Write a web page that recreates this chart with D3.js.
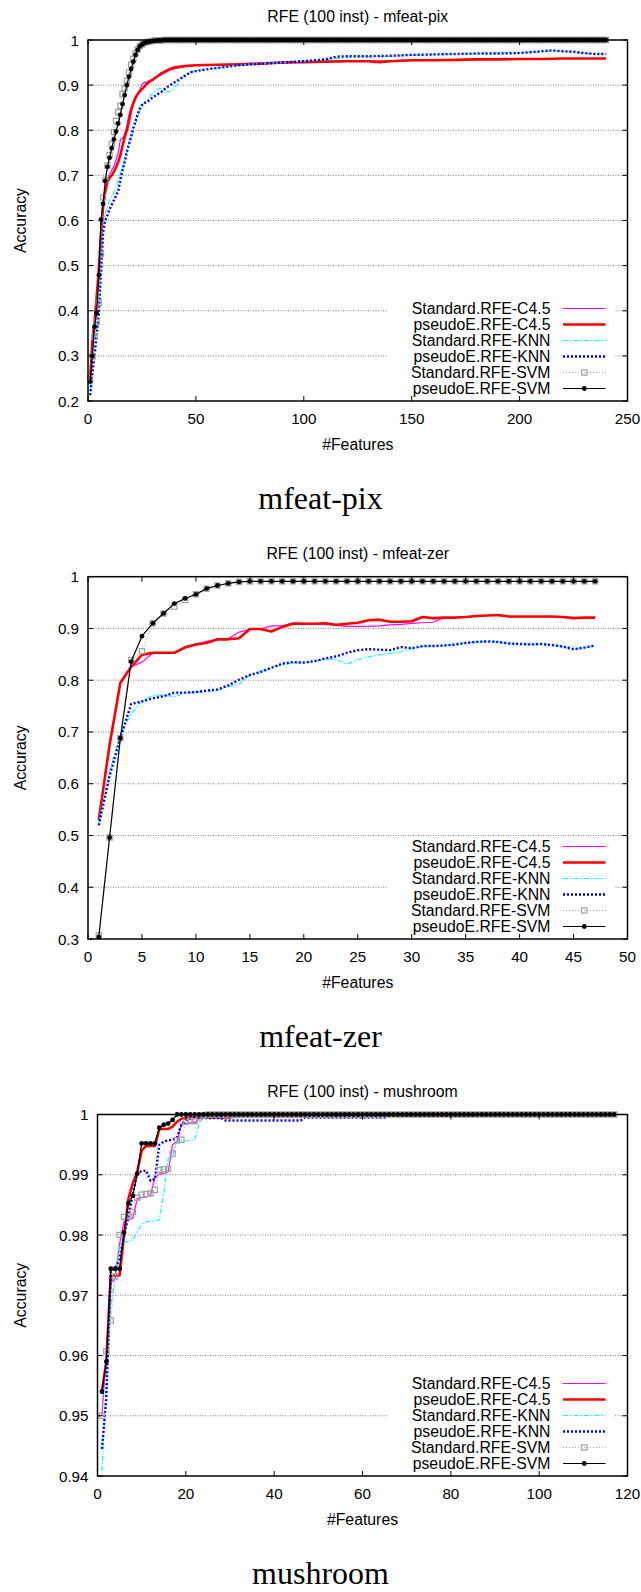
<!DOCTYPE html>
<html>
<head>
<meta charset="utf-8">
<script src="https://cdn.jsdelivr.net/npm/d3@7"></script>
<style>
  body { margin: 0; background: #fff; }
  svg text { font-family: "Liberation Sans", Arial, sans-serif; fill: #000; }
  svg text.caption { font-family: "Liberation Serif", "Times New Roman", serif; }
</style>
</head>
<body>
<svg id="fig" width="641" height="1592"></svg>
<script>
// ---------- legend entries (same order in every panel) ----------
const seriesNames = ["Standard.RFE-C4.5", "pseudoE.RFE-C4.5", "Standard.RFE-KNN",
                     "pseudoE.RFE-KNN", "Standard.RFE-SVM", "pseudoE.RFE-SVM"];

// ---------- mfeat-pix : accuracy vs. number of features ----------
const pixXTicks = [0, 50, 100, 150, 200, 250];
const pixYTicks = [0.2, 0.3, 0.4, 0.5, 0.6, 0.7, 0.8, 0.9, 1];

// [features, accuracy]
const pixC45Std = [[1,0.25],[2,0.32],[3,0.37],[4,0.42],[5,0.48],[6,0.55],[7,0.62],[8,0.66],[9,0.69],[10,0.70],
  [11,0.712],[12,0.72],[13,0.735],[14,0.748],[15,0.78],[16,0.782],[17,0.79],[18,0.81],[19,0.835],[20,0.85],
  [21,0.862],[22,0.872],[23,0.88],[24,0.89],[25,0.902],[26,0.906],[27,0.906],[28,0.909],[30,0.912],[32,0.918],
  [34,0.923],[36,0.928],[38,0.933],[40,0.936],[43,0.94],[46,0.942],[50,0.943],[60,0.944],[70,0.945],[80,0.947],
  [90,0.949],[100,0.951],[110,0.952],[120,0.953],[130,0.953],[140,0.954],[150,0.955],[160,0.955],[170,0.956],
  [180,0.957],[200,0.958],[220,0.959],[240,0.959]];
const pixC45PseudoE = [[1,0.25],[2,0.33],[3,0.375],[4,0.43],[5,0.49],[6,0.565],[7,0.635],[8,0.665],[9,0.685],[10,0.695],
  [11,0.70],[12,0.708],[13,0.718],[14,0.73],[15,0.745],[16,0.765],[17,0.785],[18,0.80],[19,0.82],[20,0.845],
  [21,0.86],[22,0.872],[23,0.88],[24,0.886],[25,0.891],[26,0.896],[27,0.902],[28,0.906],[30,0.912],[32,0.919],
  [34,0.926],[36,0.931],[38,0.936],[40,0.939],[43,0.941],[46,0.943],[50,0.944],[60,0.945],[70,0.946],[80,0.948],
  [90,0.950],[100,0.951],[110,0.952],[120,0.953],[130,0.953],[135,0.951],[140,0.953],[150,0.955],[160,0.955],
  [170,0.956],[180,0.957],[190,0.957],[200,0.958],[210,0.958],[220,0.959],[230,0.959],[240,0.959]];
const pixKnnStd = [[1,0.22],[2,0.28],[3,0.33],[4,0.37],[5,0.42],[6,0.5],[7,0.585],[8,0.615],[9,0.63],[10,0.645],
  [11,0.655],[12,0.662],[13,0.672],[14,0.69],[15,0.705],[16,0.72],[17,0.735],[18,0.752],[19,0.77],[20,0.785],
  [21,0.8],[22,0.815],[23,0.83],[24,0.842],[25,0.852],[26,0.86],[27,0.866],[28,0.871],[29,0.877],[30,0.882],
  [31,0.886],[32,0.89],[33,0.893],[34,0.892],[35,0.888],[36,0.886],[37,0.885],[38,0.886],[39,0.889],[40,0.894],
  [41,0.899],[42,0.905],[43,0.911],[44,0.917],[45,0.922],[47,0.928],[50,0.932],[55,0.936],[60,0.939],[65,0.942],
  [70,0.945],[80,0.948],[90,0.95],[100,0.953],[110,0.956],[120,0.962],[130,0.963],[140,0.964],[150,0.966],
  [160,0.968],[170,0.969],[180,0.97],[190,0.971],[200,0.972],[210,0.974],[215,0.976],[220,0.975],[225,0.973],
  [230,0.97],[235,0.969],[240,0.969]];
const pixKnnPseudoE = [[1,0.213],[2,0.26],[3,0.3],[4,0.345],[5,0.394],[6,0.483],[7,0.575],[8,0.6],[9,0.612],[10,0.625],
  [11,0.635],[12,0.645],[13,0.655],[14,0.665],[15,0.69],[16,0.712],[17,0.73],[18,0.752],[19,0.77],[20,0.786],
  [21,0.805],[22,0.82],[23,0.835],[24,0.848],[25,0.856],[26,0.86],[27,0.862],[28,0.865],[29,0.869],[30,0.873],
  [32,0.879],[34,0.885],[36,0.893],[38,0.9],[40,0.906],[42,0.912],[44,0.918],[46,0.924],[48,0.929],[50,0.931],
  [55,0.935],[60,0.938],[65,0.941],[70,0.944],[75,0.946],[80,0.947],[90,0.95],[100,0.953],[105,0.955],[110,0.957],
  [115,0.963],[120,0.964],[130,0.964],[140,0.965],[150,0.967],[160,0.968],[170,0.969],[180,0.97],[190,0.97],
  [200,0.971],[205,0.973],[210,0.975],[215,0.977],[220,0.975],[225,0.974],[230,0.971],[235,0.969],[240,0.969]];
// one value per feature count, 1..240
const pixSvmStd = [
  0.250,0.300,0.342,0.375,0.418,0.526,0.651,0.690,0.722,0.745,0.770,0.796,0.821,0.840,0.854,0.880,0.893,0.910,0.928,0.945,
  0.958,0.970,0.979,0.986,0.990,0.993,0.995,0.996,0.997,0.998,0.999,0.999,0.999,0.999,1,1,1,1,1,1,
  1,1,1,1,1,1,1,1,1,1,1,1,1,1,1,1,1,1,1,1,
  1,1,1,1,1,1,1,1,1,1,1,1,1,1,1,1,1,1,1,1,
  1,1,1,1,1,1,1,1,1,1,1,1,1,1,1,1,1,1,1,1,
  1,1,1,1,1,1,1,1,1,1,1,1,1,1,1,1,1,1,1,1,
  1,1,1,1,1,1,1,1,1,1,1,1,1,1,1,1,1,1,1,1,
  1,1,1,1,1,1,1,1,1,1,1,1,1,1,1,1,1,1,1,1,
  1,1,1,1,1,1,1,1,1,1,1,1,1,1,1,1,1,1,1,1,
  1,1,1,1,1,1,1,1,1,1,1,1,1,1,1,1,1,1,1,1,
  1,1,1,1,1,1,1,1,1,1,1,1,1,1,1,1,1,1,1,1,
  1,1,1,1,1,1,1,1,1,1,1,1,1,1,1,1,1,1,1,1];
const pixSvmPseudoE = [
  0.243,0.300,0.364,0.395,0.479,0.602,0.637,0.688,0.719,0.739,0.760,0.780,0.797,0.815,0.834,0.858,0.878,0.900,0.919,0.936,
  0.952,0.967,0.978,0.986,0.990,0.993,0.995,0.996,0.997,0.998,0.998,0.999,0.999,0.999,1,1,1,1,1,1,
  1,1,1,1,1,1,1,1,1,1,1,1,1,1,1,1,1,1,1,1,
  1,1,1,1,1,1,1,1,1,1,1,1,1,1,1,1,1,1,1,1,
  1,1,1,1,1,1,1,1,1,1,1,1,1,1,1,1,1,1,1,1,
  1,1,1,1,1,1,1,1,1,1,1,1,1,1,1,1,1,1,1,1,
  1,1,1,1,1,1,1,1,1,1,1,1,1,1,1,1,1,1,1,1,
  1,1,1,1,1,1,1,1,1,1,1,1,1,1,1,1,1,1,1,1,
  1,1,1,1,1,1,1,1,1,1,1,1,1,1,1,1,1,1,1,1,
  1,1,1,1,1,1,1,1,1,1,1,1,1,1,1,1,1,1,1,1,
  1,1,1,1,1,1,1,1,1,1,1,1,1,1,1,1,1,1,1,1,
  1,1,1,1,1,1,1,1,1,1,1,1,1,1,1,1,1,1,1,1];

// ---------- mfeat-zer : one value per feature count, 1..47 ----------
const zerXTicks = [0, 5, 10, 15, 20, 25, 30, 35, 40, 45, 50];
const zerYTicks = [0.3, 0.4, 0.5, 0.6, 0.7, 0.8, 0.9, 1];
const zerC45Std = [
  0.530,0.680,0.795,0.826,0.835,0.852,0.853,0.853,0.865,0.870,
  0.875,0.879,0.880,0.893,0.898,0.899,0.905,0.905,0.911,0.910,
  0.909,0.908,0.906,0.904,0.904,0.904,0.905,0.907,0.908,0.910,
  0.911,0.912,0.921,0.921,0.922,0.924,0.925,0.925,0.923,0.923,
  0.923,0.923,0.923,0.922,0.921,0.921,0.921];
const zerC45PseudoE = [
  0.530,0.675,0.795,0.826,0.849,0.853,0.853,0.853,0.863,0.869,
  0.872,0.879,0.879,0.881,0.899,0.899,0.894,0.903,0.909,0.909,
  0.909,0.910,0.907,0.909,0.911,0.916,0.917,0.913,0.913,0.914,
  0.922,0.920,0.921,0.921,0.922,0.924,0.925,0.926,0.923,0.923,
  0.923,0.923,0.923,0.922,0.920,0.921,0.921];
const zerKnnStd = [
  0.525,0.625,0.696,0.735,0.760,0.771,0.771,0.768,0.776,0.777,
  0.778,0.780,0.788,0.792,0.810,0.817,0.824,0.830,0.833,0.834,
  0.836,0.841,0.840,0.831,0.840,0.845,0.849,0.852,0.855,0.860,
  0.865,0.866,0.867,0.869,0.872,0.874,0.875,0.874,0.871,0.870,
  0.869,0.870,0.868,0.865,0.860,0.863,0.867];
const zerKnnPseudoE = [
  0.520,0.615,0.688,0.754,0.759,0.765,0.769,0.776,0.776,0.777,
  0.780,0.782,0.790,0.801,0.810,0.816,0.824,0.832,0.835,0.834,
  0.837,0.842,0.846,0.853,0.858,0.860,0.859,0.858,0.864,0.862,
  0.866,0.866,0.867,0.869,0.872,0.874,0.875,0.874,0.871,0.870,
  0.869,0.870,0.868,0.865,0.860,0.863,0.867];
const zerSvmStd = [
  0.307,0.496,0.688,0.839,0.856,0.910,0.929,0.942,0.955,0.966,
  0.977,0.983,0.987,0.990,0.991,0.991,0.991,0.991,0.991,0.991,
  0.991,0.991,0.991,0.991,0.991,0.991,0.991,0.991,0.991,0.991,
  0.991,0.991,0.991,0.991,0.991,0.991,0.991,0.991,0.991,0.991,
  0.991,0.991,0.991,0.991,0.991,0.991,0.991];
const zerSvmPseudoE = [
  0.304,0.496,0.688,0.836,0.885,0.910,0.929,0.948,0.958,0.966,
  0.977,0.983,0.987,0.990,0.991,0.991,0.991,0.991,0.991,0.991,
  0.991,0.991,0.991,0.991,0.991,0.991,0.991,0.991,0.991,0.991,
  0.991,0.991,0.991,0.991,0.991,0.991,0.991,0.991,0.991,0.991,
  0.991,0.991,0.991,0.991,0.991,0.991,0.991];

// ---------- mushroom ----------
const mushXTicks = [0, 20, 40, 60, 80, 100, 120];
const mushYTicks = [0.94, 0.95, 0.96, 0.97, 0.98, 0.99, 1];
// [features, accuracy]
const mushC45Std = [[1,0.950],[2,0.9605],[3,0.972],[4,0.9728],[5,0.9785],[6,0.9822],[7,0.9825],[8,0.9828],
  [9,0.986],[10,0.9862],[11,0.9863],[12,0.9866],[13,0.9895],[14,0.9901],[15,0.9902],[16,0.9905],[17,0.995],
  [18,0.9955],[19,0.9984],[20,0.9985],[21,0.9986],[22,0.9986],[23,0.9994],[24,0.9996],[25,0.9998],[50,0.9998],
  [51,1],[117,1]];
const mushC45PseudoE = [[1,0.954],[2,0.959],[3,0.9733],[4,0.9733],[5,0.9733],[6,0.9798],[7,0.986],[8,0.9886],
  [9,0.9905],[10,0.994],[11,0.9948],[12,0.9948],[13,0.9948],[14,0.9976],[15,0.9976],[16,0.9976],[17,0.998],
  [18,0.9988],[19,0.9993],[20,0.9994],[21,0.9995],[30,0.9995],[31,0.9997],[60,0.9997],[61,0.9998],[85,0.9998],
  [86,1],[117,1]];
const mushKnnStd = [[1,0.9408],[2,0.9555],[3,0.968],[4,0.9735],[5,0.978],[6,0.9787],[7,0.979],[8,0.9792],
  [9,0.9805],[10,0.9818],[11,0.9822],[12,0.9823],[13,0.9823],[14,0.9825],[15,0.987],[16,0.9928],[17,0.993],
  [18,0.9955],[19,0.9956],[20,0.9956],[21,0.9957],[22,0.9958],[23,0.9985],[24,0.9995],[25,0.9997],[40,0.9997],
  [41,1],[117,1]];
const mushKnnPseudoE = [[1,0.9445],[2,0.953],[3,0.974],[4,0.9745],[5,0.976],[6,0.98],[7,0.983],[8,0.9868],
  [9,0.9903],[10,0.9906],[11,0.9907],[12,0.989],[13,0.9893],[14,0.995],[15,0.9955],[16,0.9957],[17,0.9958],
  [18,0.9962],[19,0.9983],[20,0.9991],[21,0.9993],[22,0.9994],[28,0.9994],[29,0.999],[46,0.999],[47,0.9995],
  [65,0.9995],[66,1],[117,1]];
// one value per feature count, 1..117
const mushSvmStd = [
  0.9500,0.9607,0.9658,0.9731,0.9800,0.9830,0.9831,0.9838,0.9862,0.9867,
  0.9868,0.9869,0.9875,0.9908,0.9909,0.9910,0.9935,0.9957,0.9958,0.9988,
  0.9989,0.9989,0.9995,0.9998,
  1,1,1,1,1,1,1,1,1,1,1,1,1,1,1,1,1,1,1,1,
  1,1,1,1,1,1,1,1,1,1,1,1,1,1,1,1,1,1,1,1,
  1,1,1,1,1,1,1,1,1,1,1,1,1,1,1,1,1,1,1,1,
  1,1,1,1,1,1,1,1,1,1,1,1,1,1,1,1,1,1,1,1,
  1,1,1,1,1,1,1,1,1,1,1,1,1];
const mushSvmPseudoE = [
  0.954,0.959,0.9744,0.9744,0.9744,0.9804,0.9853,0.9865,0.9902,0.9952,
  0.9952,0.9952,0.9952,0.9978,0.9983,0.9985,0.9991,
  1,1,1,1,1,1,1,1,1,1,1,1,1,1,1,1,1,1,1,1,
  1,1,1,1,1,1,1,1,1,1,1,1,1,1,1,1,1,1,1,1,
  1,1,1,1,1,1,1,1,1,1,1,1,1,1,1,1,1,1,1,1,
  1,1,1,1,1,1,1,1,1,1,1,1,1,1,1,1,1,1,1,1,
  1,1,1,1,1,1,1,1,1,1,1,1,1,1,1,1,1,1,1,1];

// ---------- drawing ----------
const seriesStyles = [
  { color: "#ff00ff", width: 1.2, dash: null,          marker: null },
  { color: "#ff0000", width: 2.6, dash: null,          marker: null },
  { color: "#00ffff", width: 1.2, dash: "5,2,1.5,2",   marker: null },
  { color: "#0000ff", width: 2.4, dash: "2,2",         marker: null },
  { color: "#a0a0a0", width: 1.0, dash: "1,2",         marker: "square" },
  { color: "#000000", width: 1.2, dash: null,          marker: "circle" }
];

const panels = [
  { title: "RFE (100 inst) - mfeat-pix", caption: "mfeat-pix",
    xDomain: [0, 250], xTicks: pixXTicks, yDomain: [0.2, 1], yTicks: pixYTicks,
    box: { left: 88, right: 627.5, top: 40, bottom: 401 },
    series: [pixC45Std, pixC45PseudoE, pixKnnStd, pixKnnPseudoE, pixSvmStd, pixSvmPseudoE] },
  { title: "RFE (100 inst) - mfeat-zer", caption: "mfeat-zer",
    xDomain: [0, 50], xTicks: zerXTicks, yDomain: [0.3, 1], yTicks: zerYTicks,
    box: { left: 88, right: 627.5, top: 576.7, bottom: 939 },
    series: [zerC45Std, zerC45PseudoE, zerKnnStd, zerKnnPseudoE, zerSvmStd, zerSvmPseudoE] },
  { title: "RFE (100 inst) - mushroom", caption: "mushroom",
    xDomain: [0, 120], xTicks: mushXTicks, yDomain: [0.94, 1], yTicks: mushYTicks,
    box: { left: 97.5, right: 627.5, top: 1114.5, bottom: 1476 },
    series: [mushC45Std, mushC45PseudoE, mushKnnStd, mushKnnPseudoE, mushSvmStd, mushSvmPseudoE] }
];

const svg = d3.select("#fig");
const FONT = 15.8;
const TICK_FONT = 15.2;
const tickLen = 5;
const fmt = v => String(+v.toFixed(3));
const toPoints = s => (typeof s[0] === "number") ? s.map((v, i) => [i + 1, v]) : s;

function drawMarker(sel, kind, st) {
  if (kind === "circle") {
    sel.append("circle").attr("r", 2.4).attr("fill", st.color);
  } else if (kind === "square") {
    sel.append("rect").attr("x", -2.6).attr("y", -2.6).attr("width", 5.2).attr("height", 5.2)
      .attr("fill", "none").attr("stroke", st.color).attr("stroke-width", 1.2);
  }
}

panels.forEach(p => {
  const b = p.box;
  const x = d3.scaleLinear().domain(p.xDomain).range([b.left, b.right]);
  const y = d3.scaleLinear().domain(p.yDomain).range([b.bottom, b.top]);
  const g = svg.append("g");

  // horizontal dotted grid
  g.append("g").selectAll("line")
    .data(p.yTicks.filter(t => y(t) > b.top + 1 && y(t) < b.bottom - 1))
    .join("line")
    .attr("x1", b.left).attr("x2", b.right)
    .attr("y1", d => y(d)).attr("y2", d => y(d))
    .attr("stroke", "#808080").attr("stroke-width", 1).attr("stroke-dasharray", "1,1.5");

  // legend layout: last row sits just above the bottom frame
  const rowGap = 16;
  const rows = seriesNames.map((n, i) => b.bottom - 12.5 - rowGap * (seriesNames.length - 1 - i));
  g.append("rect")
    .attr("x", 388).attr("y", rows[0] - 9)
    .attr("width", 614 - 388).attr("height", b.bottom - (rows[0] - 9) - 1)
    .attr("fill", "#fff");

  // series
  const line = d3.line().x(d => x(d[0])).y(d => y(d[1]));
  p.series.forEach((s, i) => {
    const st = seriesStyles[i];
    const pts = toPoints(s);
    g.append("path").datum(pts)
      .attr("d", line)
      .attr("fill", "none")
      .attr("stroke", st.color)
      .attr("stroke-width", st.width)
      .attr("stroke-dasharray", st.dash)
      .attr("stroke-linejoin", "round");
    if (st.marker) {
      g.append("g").selectAll("g").data(pts).join("g")
        .attr("transform", d => `translate(${x(d[0])},${y(d[1])})`)
        .each(function () { drawMarker(d3.select(this), st.marker, st); });
    }
  });

  // legend entries
  const lx0 = 563, lx1 = 605.5, textRight = 550.5;
  seriesNames.forEach((name, i) => {
    const st = seriesStyles[i];
    const ry = rows[i];
    g.append("text").attr("x", textRight).attr("y", ry + 5.5)
      .attr("text-anchor", "end").attr("font-size", FONT).text(name);
    g.append("line").attr("x1", lx0).attr("x2", lx1).attr("y1", ry).attr("y2", ry)
      .attr("stroke", st.color).attr("stroke-width", st.width)
      .attr("stroke-dasharray", st.dash);
    if (st.marker) {
      const m = g.append("g").attr("transform", `translate(${(lx0 + lx1) / 2},${ry})`);
      drawMarker(m, st.marker, st);
    }
  });

  // frame and mirrored ticks
  g.append("rect").attr("x", b.left).attr("y", b.top)
    .attr("width", b.right - b.left).attr("height", b.bottom - b.top)
    .attr("fill", "none").attr("stroke", "#000").attr("stroke-width", 1.5);
  const ticks = g.append("g").attr("stroke", "#000").attr("stroke-width", 1);
  p.xTicks.forEach(t => {
    ticks.append("line").attr("x1", x(t)).attr("x2", x(t)).attr("y1", b.bottom).attr("y2", b.bottom - tickLen);
    ticks.append("line").attr("x1", x(t)).attr("x2", x(t)).attr("y1", b.top).attr("y2", b.top + tickLen);
  });
  p.yTicks.forEach(t => {
    ticks.append("line").attr("x1", b.left).attr("x2", b.left + tickLen).attr("y1", y(t)).attr("y2", y(t));
    ticks.append("line").attr("x1", b.right).attr("x2", b.right - tickLen).attr("y1", y(t)).attr("y2", y(t));
  });

  // tick labels
  g.append("g").selectAll("text").data(p.xTicks).join("text")
    .attr("x", d => x(d)).attr("y", b.bottom + 22.5)
    .attr("text-anchor", "middle").attr("font-size", TICK_FONT).text(d => fmt(d));
  g.append("g").selectAll("text").data(p.yTicks).join("text")
    .attr("x", b.left - 9).attr("y", d => y(d) + 5.5)
    .attr("text-anchor", "end").attr("font-size", TICK_FONT).text(d => fmt(d));

  // titles
  const cx = (b.left + b.right) / 2;
  g.append("text").attr("x", cx).attr("y", b.top - 18)
    .attr("text-anchor", "middle").attr("font-size", FONT).text(p.title);
  g.append("text").attr("x", cx).attr("y", b.bottom + 49)
    .attr("text-anchor", "middle").attr("font-size", FONT).text("#Features");
  g.append("text")
    .attr("transform", `translate(25.5,${(b.top + b.bottom) / 2}) rotate(-90)`)
    .attr("text-anchor", "middle").attr("font-size", FONT).text("Accuracy");

  // sub-figure caption
  g.append("text").attr("class", "caption")
    .attr("x", 320.5).attr("y", b.bottom + 108)
    .attr("text-anchor", "middle").attr("font-size", 32).text(p.caption);
});
</script>
</body>
</html>
